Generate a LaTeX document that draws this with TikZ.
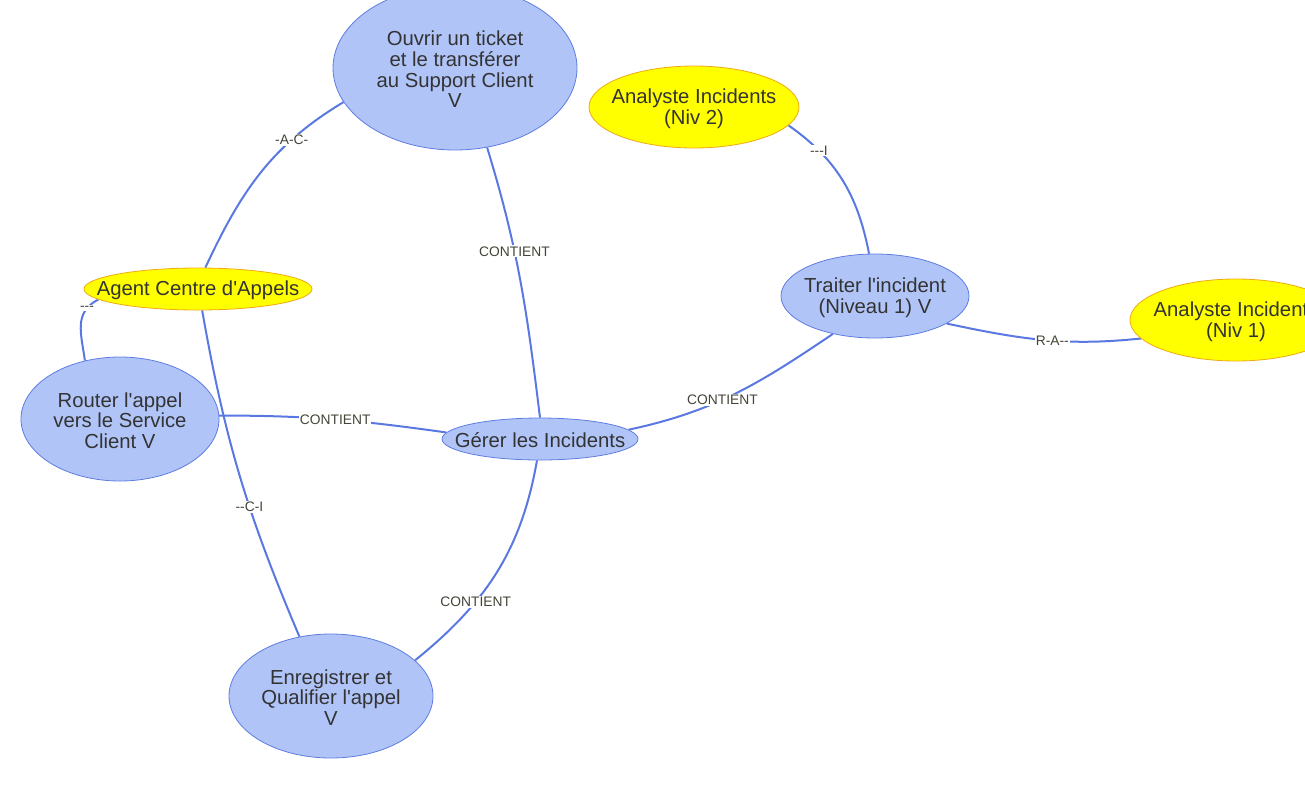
\documentclass[tikz,border=0pt]{standalone}
\usepackage{fontspec}
\setmainfont{Liberation Sans}[Ligatures=TeXOff]
\usetikzlibrary{shapes.geometric}
\pgfdeclarelayer{background}
\pgfsetlayers{background,main}
\definecolor{edgeblue}{RGB}{90,120,225}
\definecolor{nodefill}{RGB}{176,196,247}
\definecolor{nodedraw}{RGB}{95,125,225}
\definecolor{yfill}{RGB}{255,255,0}
\definecolor{ydraw}{RGB}{238,170,20}
\definecolor{txtc}{RGB}{51,51,51}
\definecolor{lblc}{RGB}{68,68,56}
\begin{document}
\begin{tikzpicture}[x=1pt,y=1pt,
  bnode/.style={ellipse, draw=nodedraw, fill=nodefill, line width=0.8pt, inner sep=0pt},
  ynode/.style={ellipse, draw=ydraw, fill=yfill, line width=0.8pt, inner sep=0pt},
  txt/.style={text=txtc, font=\fontsize{20.3}{20.7}\selectfont, align=center, inner sep=0pt, yshift=-1.5pt},
  conn/.style={draw=edgeblue, line width=2pt},
  lbl/.style={fill=white, text=lblc, font=\fontsize{13.8}{14}\selectfont, inner sep=1pt}]
\useasboundingbox (0,0) rectangle (1305,-785);

\node[bnode, minimum width=244, minimum height=164,
  label={[txt]center:{Ouvrir un ticket\\et le transférer\\au Support Client\\V}}] (ouvrir) at (455,-68) {};
\node[ynode, minimum width=228, minimum height=42,
  label={[txt]center:{Agent Centre d'Appels}}] (agent) at (198,-289) {};
\node[bnode, minimum width=198, minimum height=124,
  label={[txt]center:{Router l'appel\\vers le Service\\Client V}}] (router) at (120,-419) {};
\node[bnode, minimum width=196, minimum height=42,
  label={[txt]center:{Gérer les Incidents}}] (gerer) at (540,-439) {};
\node[bnode, minimum width=204, minimum height=124,
  label={[txt]center:{Enregistrer et\\Qualifier l'appel\\V}}] (enreg) at (331,-696) {};
\node[ynode, minimum width=210, minimum height=82,
  label={[txt]center:{Analyste Incidents\\(Niv 2)}}] (niv2) at (694,-107) {};
\node[bnode, minimum width=188, minimum height=84,
  label={[txt]center:{Traiter l'incident\\(Niveau 1) V}}] (traiter) at (875,-296) {};
\node[ynode, minimum width=212, minimum height=82,
  label={[txt]center:{Analyste Incidents\\(Niv 1)}}] (niv1) at (1236,-320) {};

\begin{pgfonlayer}{background}
\draw[conn] (agent.71) to[out=65,in=211] node[lbl,pos=0.72]{-A-C-} (ouvrir.197);
\draw[conn] (agent.186) to[out=208,in=98,looseness=1.15] node[lbl,pos=0.2]{---} (router.121);
\draw[conn] (agent.281) to[out=280,in=113] node[lbl,pos=0.6]{--C-I} (enreg.118);
\draw[conn] (ouvrir.292) to[out=287,in=97] node[lbl,pos=0.38]{CONTIENT} (gerer.90);
\draw[conn] (router.2) to[out=0,in=172] node[lbl,pos=0.51]{CONTIENT} (gerer.176);
\draw[conn] (gerer.6) to[out=12,in=214] node[lbl,pos=0.43]{CONTIENT} (traiter.222);
\draw[conn] (gerer.262) to[out=260,in=39] node[lbl,pos=0.66]{CONTIENT} (enreg.23);
\draw[conn] (traiter.98) to[out=101,in=325] node[lbl,pos=0.76]{---I} (niv2.349);
\draw[conn] (traiter.339) to[out=348,in=186] node[lbl,pos=0.55]{R-A--} (niv1.191);
\end{pgfonlayer}
\end{tikzpicture}
\end{document}
